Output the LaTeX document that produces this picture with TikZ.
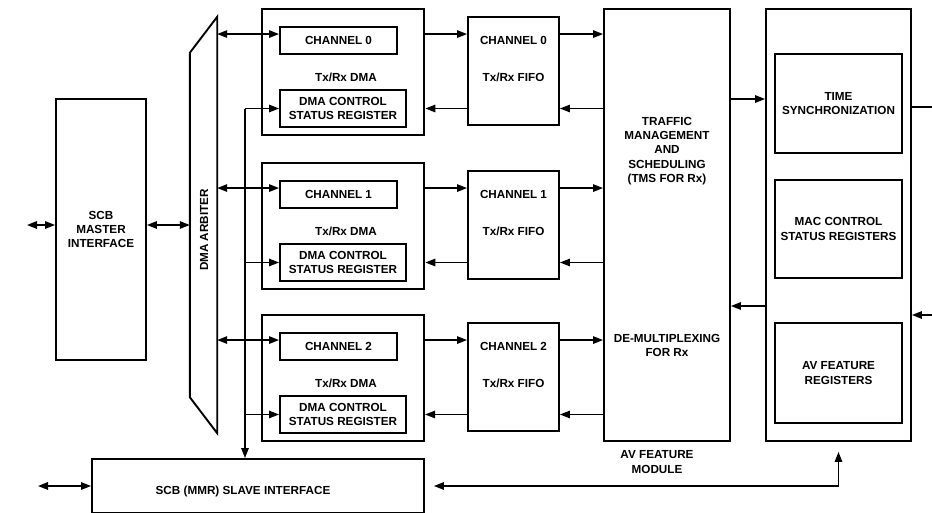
\documentclass[tikz,border=0pt]{standalone}
\usepackage{fontspec}
\setmainfont{Liberation Sans}
\usetikzlibrary{arrows.meta,calc}
\begin{document}
\begin{tikzpicture}[x=1pt,y=-1pt,
  every node/.style={font=\fontsize{11.7}{14.3}\selectfont\bfseries, align=center, inner sep=0pt},
  box/.style={draw, line width=1.9pt, inner sep=0pt},
  arr/.style={line width=1.5pt, -{Triangle[length=10pt,width=7.5pt]}},
  dbl/.style={line width=1.5pt, {Triangle[length=10pt,width=7.5pt]}-{Triangle[length=10pt,width=7.5pt]}},
  ln/.style={line width=1.5pt}
]
\useasboundingbox (0,0) rectangle (932,512);
\clip (0,0) rectangle (932,512);

% SCB master interface
\node[box, minimum width=90, minimum height=261] (master) at (101,229.5) {SCB\\MASTER\\INTERFACE};

% DMA arbiter
\node[minimum width=27, minimum height=416] (arb) at (203.5,225) {};
\draw[line width=1.9pt, line join=miter] (arb.north east) -- (arb.south east) -- ($(arb.south west)+(0,-36)$) -- ($(arb.north west)+(0,36)$) -- cycle;
\node[rotate=90] (arblabel) at (204,230) {DMA ARBITER};

% channel rows
\foreach \r/\o/\w in {0/0/2.8pt,1/154/2.8pt,2/306/2.2pt}{
  \node[draw, line width=\w, minimum width=162, minimum height=126] (dma\r) at (343,72+\o) {};
  \node[box, minimum width=117, minimum height=27] (ch\r) at (338.5,40.5+\o) {CHANNEL \r};
  \node[box, minimum width=126, minimum height=37] (ctrl\r) at (343,108.5+\o) {DMA CONTROL\\STATUS REGISTER};
  \node (dmat\r) at (346,77+\o) {Tx/Rx DMA};
  \node[box, minimum width=91, minimum height=108] (fifo\r) at (513.5,71+\o) {};
  \node (fifoa\r) at (513.5,40+\o) {CHANNEL \r};
  \node (fifob\r) at (513.5,77+\o) {Tx/Rx FIFO};
}

% AV feature module (TMS)
\node[box, minimum width=126, minimum height=432] (tms) at (667,225) {};
\node (tmsa) at (667,151) {TRAFFIC\\MANAGEMENT\\AND\\SCHEDULING\\(TMS FOR Rx)};
\node (tmsb) at (667,345.5) {DE-MULTIPLEXING\\FOR Rx};
\node (avm) at (657,462) {AV FEATURE\\MODULE};

% MAC block
\node[box, minimum width=145, minimum height=432] (mac) at (838.5,225) {};
\node[box, minimum width=127, minimum height=99] (tsync) at (838.5,103.5) {TIME\\SYNCHRONIZATION};
\node[box, minimum width=127, minimum height=98] (macctl) at (838.5,229) {MAC CONTROL\\STATUS REGISTERS};
\node[box, minimum width=127, minimum height=100] (avreg) at (838.5,373) {AV FEATURE\\REGISTERS};

% SCB slave interface
\node[box, minimum width=332, minimum height=54] (slave) at (258,486) {};
\node (slavet) at (243,491) {SCB (MMR) SLAVE INTERFACE};

% coordinates for free ends and levels
\coordinate (bus) at (245,0);
\coordinate (ml) at (27,225);
\coordinate (sl) at (38,486);
\coordinate (y1) at (0,99);
\coordinate (y2) at (0,306);
\coordinate (r1) at (932,107);
\coordinate (r2) at (932,315);

% row connectors
\foreach \r in {0,1,2}{
  \coordinate (a\r) at ([yshift=-8pt]ch\r.north west);
  \draw[dbl] (arb.east |- a\r) -- (a\r);
  \draw[arr] (dma\r.east |- a\r) -- (fifo\r.west |- a\r);
  \draw[arr] (fifo\r.east |- a\r) -- (tms.west |- a\r);
  \draw[arr] (fifo\r.west |- ctrl\r.west) -- (dma\r.east |- ctrl\r.west);
  \draw[arr] (tms.west |- ctrl\r.west) -- (fifo\r.east |- ctrl\r.west);
  \draw[arr] (bus |- ctrl\r.west) -- (ctrl\r.west);
}
\draw[arr] (bus |- ctrl0.west) -- (bus |- slave.north);

% master connectors
\draw[dbl] (ml) -- (ml -| master.west);
\draw[dbl] (master.east |- ml) -- (arb.west |- ml);

% slave connectors
\draw[dbl] (sl) -- (slave.west);
\draw[dbl, shorten <=9pt, shorten >=10pt] (slave.east) -| (mac.south);

% TMS <-> MAC
\draw[arr] (tms.east |- y1) -- (mac.west |- y1);
\draw[arr] (mac.west |- y2) -- (tms.east |- y2);

% right side
\draw[ln] (mac.east |- r1) -- (r1);
\draw[arr] (r2) -- (r2 -| mac.east);
\end{tikzpicture}
\end{document}
